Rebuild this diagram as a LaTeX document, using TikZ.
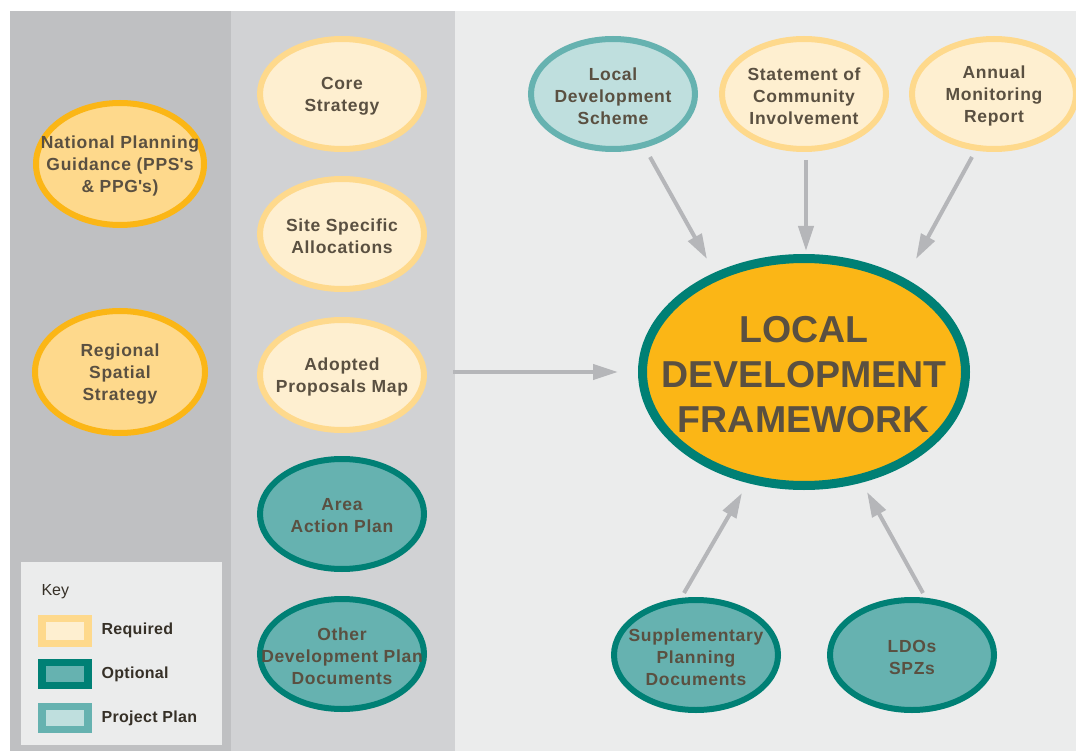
\documentclass[tikz,border=0pt]{standalone}
\usepackage{fontspec}
\setmainfont{Liberation Sans}
\usetikzlibrary{shapes.geometric,arrows.meta}
\definecolor{panelA}{HTML}{BFC0C2}
\definecolor{panelB}{HTML}{D1D2D4}
\definecolor{panelC}{HTML}{EBECEC}
\definecolor{orangeS}{HTML}{FBB616}
\definecolor{orangeM}{HTML}{FED98C}
\definecolor{cream}{HTML}{FEEFD0}
\definecolor{tealD}{HTML}{008075}
\definecolor{tealM}{HTML}{66B2B0}
\definecolor{tealL}{HTML}{BFDFDE}
\definecolor{arrowgray}{HTML}{B5B6B9}
\definecolor{txt}{RGB}{90,80,65}
\begin{document}
\begin{tikzpicture}[x=1pt,y=-1pt,
  base/.style={ellipse, inner sep=0pt, minimum width=164pt, minimum height=110pt},
  lbl/.style={align=center, text=txt, inner sep=0pt, yshift=-2pt,
    font=\fontsize{17.5}{22}\selectfont\bfseries\addfontfeature{LetterSpace=4}},
  natl/.style={base, draw=orangeS, fill=orangeM, line width=6pt},
  reqd/.style={base, draw=orangeM, fill=cream, line width=6pt},
  optl/.style={base, draw=tealD, fill=tealM, line width=6pt},
  proj/.style={base, draw=tealM, fill=tealL, line width=6pt},
  arr/.style={draw=arrowgray, line width=4pt, -{Triangle[length=25pt,width=15pt]}},
  keytext/.style={anchor=west, text=txt!60!black, font=\fontsize{16}{19}\selectfont\bfseries\addfontfeature{LetterSpace=2}},
]
\useasboundingbox (0,0) rectangle (1076,751);
\fill[white] (0,0) rectangle (1076,751);
\fill[panelA] (10,11) rectangle (231,751);
\fill[panelB] (231,11) rectangle (455,751);
\fill[panelC] (455,11) rectangle (1076,751);

% left column
\node[natl, minimum width=168pt, minimum height=122pt,
  label={[lbl]center:National Planning\\Guidance (PPS\textquotesingle s\\\& PPG\textquotesingle s)}] (npg) at (120,164) {};
\node[natl, minimum width=170pt, minimum height=122pt,
  label={[lbl]center:Regional\\Spatial\\Strategy}] (rss) at (120,372) {};

% middle column
\node[reqd, label={[lbl]center:Core\\Strategy}] (core) at (342,94) {};
\node[reqd, label={[lbl]center:Site Specific\\Allocations}] (ssa) at (342,234) {};
\node[reqd, label={[lbl]center:Adopted\\Proposals Map}] (apm) at (342,375) {};
\node[optl, label={[lbl]center:Area\\Action Plan}] (aap) at (342,514) {};
\node[optl, label={[lbl]center:Other\\Development Plan\\Documents}] (odpd) at (342,654) {};

% right area
\node[proj, label={[lbl]center:Local\\Development\\Scheme}] (lds) at (613,94) {};
\node[reqd, label={[lbl]center:Statement of\\Community\\Involvement}] (sci) at (804,94) {};
\node[reqd, label={[lbl]center:Annual\\Monitoring\\Report}] (amr) at (994,94) {};
\node[ellipse, draw=tealD, fill=orangeS, line width=9pt, inner sep=0pt,
  minimum width=323pt, minimum height=227pt,
  label={[lbl, yshift=-1pt, font=\fontsize{37.5}{45}\selectfont\bfseries]center:LOCAL\\DEVELOPMENT\\FRAMEWORK}] (ldf) at (804,372) {};
\node[optl, label={[lbl]center:Supplementary\\Planning\\Documents}] (spd) at (696,655) {};
\node[optl, label={[lbl]center:LDOs\\SPZs}] (ldo) at (912,655) {};

% connectors
\coordinate (a1) at (650,157); \coordinate (b1) at (707,259);
\coordinate (a2) at (806,160); \coordinate (b2) at (806,251);
\coordinate (a3) at (972,157); \coordinate (b3) at (916,259);
\coordinate (a4) at (453,372); \coordinate (b4) at (618,372);
\coordinate (a5) at (684,593); \coordinate (b5) at (742,493);
\coordinate (a6) at (923,593); \coordinate (b6) at (867,492);
\draw[arr] (a1) -- (b1);
\draw[arr] (a2) -- (b2);
\draw[arr] (a3) -- (b3);
\draw[arr] (a4) -- (b4);
\draw[arr] (a5) -- (b5);
\draw[arr] (a6) -- (b6);

% key
\fill[panelC] (21,562) rectangle (222,745);
\node[keytext, font=\fontsize{16}{19}\selectfont] (key) at (38,592) {Key};
\fill[orangeM] (38,615) rectangle (92,647);
\fill[cream] (46,622) rectangle (84,640);
\node[keytext] (kreq) at (98,630) {Required};
\fill[tealD] (38,659) rectangle (92,689);
\fill[tealM] (46,666) rectangle (84,682);
\node[keytext] (kopt) at (98,674) {Optional};
\fill[tealM] (38,703) rectangle (92,733);
\fill[tealL] (46,710) rectangle (84,726);
\node[keytext] (kproj) at (98,718) {Project Plan};
\end{tikzpicture}
\end{document}
